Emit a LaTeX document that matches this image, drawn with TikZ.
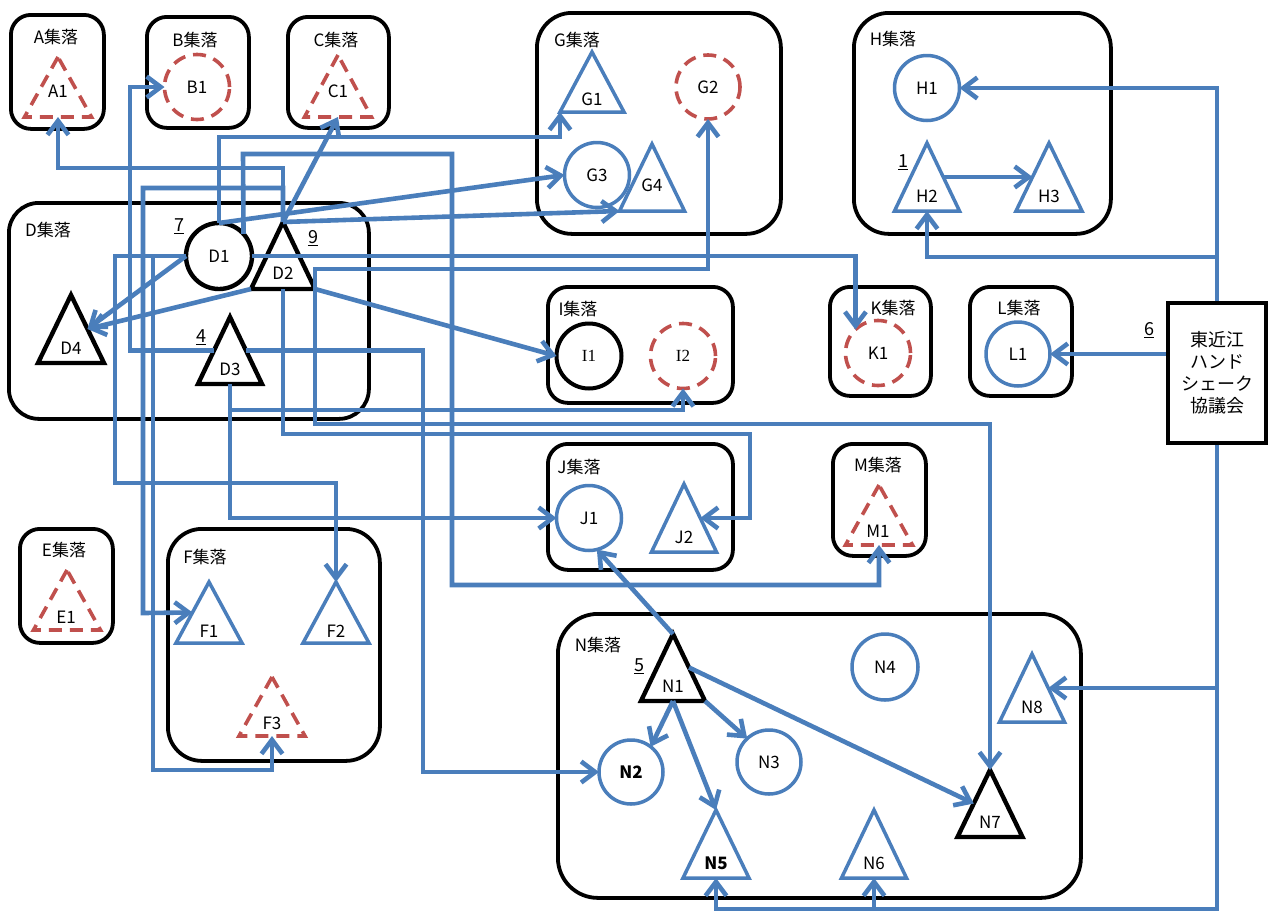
\documentclass[tikz,border=0pt]{standalone}
\usepackage{fontspec}
\setmainfont{Noto Sans CJK JP}
\newfontfamily\romanface{Liberation Serif}
\usetikzlibrary{arrows.meta,shapes.geometric}

\definecolor{hsblue}{RGB}{74,126,187}
\definecolor{hsred}{RGB}{192,80,77}

\tikzset{
  village/.style={draw, line width=3.8pt, anchor=north west, inner sep=0pt, rounded corners=20pt},
  vname/.style={font=\fontsize{17}{19}\selectfont, inner sep=0pt},
  house/.style={circle, minimum size=65pt, inner sep=0pt, outer sep=0pt, font=\fontsize{17}{19}\selectfont},
  roof/.style={isosceles triangle, isosceles triangle stretches, shape border rotate=90,
    anchor=lower side, minimum width=66pt, minimum height=67pt, inner sep=0pt, outer sep=0pt},
  rname/.style={font=\fontsize{17}{19}\selectfont, inner sep=0pt},
  core/.style={draw=black, line width=4.4pt},
  member/.style={draw=hsblue, line width=3.5pt},
  cand/.style={draw=hsred, line width=3.6pt, dash pattern=on 13pt off 8pt},
  link/.style={draw=hsblue, line width=4.6pt, -{Straight Barb[length=14pt,width=21pt]}},
  count/.style={font=\fontsize{18}{20}\selectfont, inner sep=0pt},
}

\begin{document}
\begin{tikzpicture}[x=1pt, y=-1pt]
\useasboundingbox (0,0) rectangle (1269,911);

% ---- villages ----
\node[village, minimum width=93pt, minimum height=114pt] (A) at (9,13) {};
\node[village, minimum width=102pt, minimum height=111pt] (B) at (145,15) {};
\node[village, minimum width=101pt, minimum height=111pt] (C) at (286,15) {};
\node[village, minimum width=360pt, minimum height=216pt, rounded corners=30pt] (D) at (7,201) {};
\node[village, minimum width=93pt, minimum height=114pt] (E) at (18,527) {};
\node[village, minimum width=212pt, minimum height=232pt, rounded corners=34pt] (F) at (166,527) {};
\node[village, minimum width=244pt, minimum height=221pt, rounded corners=35pt] (G) at (535,11) {};
\node[village, minimum width=257pt, minimum height=221pt, rounded corners=35pt] (H) at (852,11) {};
\node[village, minimum width=185pt, minimum height=116pt] (I) at (546,285) {};
\node[village, minimum width=185pt, minimum height=126pt] (J) at (546,442) {};
\node[village, minimum width=101pt, minimum height=109pt] (K) at (828,285) {};
\node[village, minimum width=102pt, minimum height=109pt] (L) at (968,285) {};
\node[village, minimum width=93pt, minimum height=112pt] (M) at (831,442) {};
\node[village, minimum width=523pt, minimum height=284pt, rounded corners=40pt] (N) at (556,612) {};

% village names
\node[vname] (Aname) at (56,37) {A集落};
\node[vname] (Bname) at (195,40) {B集落};
\node[vname] (Cname) at (336,40) {C集落};
\node[vname] (Dname) at (48,230) {D集落};
\node[vname] (Ename) at (64,550) {E集落};
\node[vname] (Fname) at (205,557) {F集落};
\node[vname] (Gname) at (577,40) {G集落};
\node[vname] (Hname) at (893,39) {H集落};
\node[vname] (Iname) at (578,309) {I集落};
\node[vname] (Jname) at (579,467) {J集落};
\node[vname] (Kname) at (893,308) {K集落};
\node[vname] (Lname) at (1019,308) {L集落};
\node[vname] (Mname) at (878,465) {M集落};
\node[vname] (Nname) at (598,645) {N集落};

% ---- council ----
\node[draw, line width=4.2pt, minimum width=98pt, minimum height=140pt, align=center,
  font=\fontsize{18}{22}\selectfont] (kyo) at (1217,373) {東近江\\ハンド\\シェーク\\協議会};

% ---- circles ----
\node[house, cand] (B1) at (197,87) {B1};
\node[house, core, minimum size=66pt] (D1) at (219,256) {D1};
\node[house, cand, minimum size=64pt] (G2) at (708,87) {G2};
\node[house, member] (G3) at (597,175) {G3};
\node[house, member] (H1) at (927,88) {H1};
\node[house, core, line width=4pt, font=\fontsize{17}{19}\romanface] (I1) at (589,356) {I1};
\node[house, cand, font=\fontsize{17}{19}\romanface] (I2) at (683,356) {I2};
\node[house, member] (J1) at (589,518) {J1};
\node[house, cand] (K1) at (878,353) {K1};
\node[house, member, minimum size=64pt] (L1) at (1018,354) {L1};
\node[house, member, minimum size=64pt, font=\fontsize{17}{19}\bfseries] (N2) at (631,772) {N2};
\node[house, member, minimum size=64pt] (N3) at (769,762) {N3};
\node[house, member, minimum size=66pt] (N4) at (885,667) {N4};

% ---- triangles ----
\node[roof, cand, minimum height=60pt, minimum width=67pt] (A1) at (58,117) {};
\node[roof, cand, minimum height=62pt, minimum width=67pt] (C1) at (338,117) {};
\node[roof, core, minimum width=64pt] (D2) at (283,289) {};
\node[roof, core, minimum width=64pt] (D3) at (230,384) {};
\node[roof, core, minimum height=68pt] (D4) at (71,363) {};
\node[roof, cand, minimum height=60pt, minimum width=67pt] (E1) at (67,630) {};
\node[roof, member, minimum height=61pt] (F1) at (209,643) {};
\node[roof, member, minimum height=61pt] (F2) at (336,643) {};
\node[roof, cand, minimum height=59pt] (F3) at (272,736) {};
\node[roof, member, minimum height=60pt, minimum width=64pt] (G1) at (592,112) {};
\node[roof, member, minimum width=65pt] (G4) at (652,211) {};
\node[roof, member, minimum height=68pt, minimum width=65pt] (H2) at (927,211) {};
\node[roof, member, minimum height=68pt] (H3) at (1049,211) {};
\node[roof, member, minimum height=68pt, minimum width=65pt] (J2) at (684,552) {};
\node[roof, cand, minimum height=60pt, minimum width=67pt] (M1) at (879,545) {};
\node[roof, core, minimum width=64pt] (N1) at (673,701) {};
\node[roof, member, minimum height=68pt] (N5) at (716,878) {};
\node[roof, member, minimum height=68pt, minimum width=65pt] (N6) at (874,878) {};
\node[roof, core, minimum width=65pt] (N7) at (990,837) {};
\node[roof, member, minimum height=68pt, minimum width=65pt] (N8) at (1032,722) {};

% triangle names
\node[rname] (A1name) at (58,91) {A1};
\node[rname] (C1name) at (338,91) {C1};
\node[rname] (D2name) at (283,273) {D2};
\node[rname] (D3name) at (230,369) {D3};
\node[rname] (D4name) at (71,348) {D4};
\node[rname] (E1name) at (66,617) {E1};
\node[rname] (F1name) at (209,631) {F1};
\node[rname] (F2name) at (336,631) {F2};
\node[rname] (F3name) at (272,723) {F3};
\node[rname] (G1name) at (592,99) {G1};
\node[rname] (G4name) at (652,185) {G4};
\node[rname] (H2name) at (927,196) {H2};
\node[rname] (H3name) at (1049,196) {H3};
\node[rname] (J2name) at (684,537) {J2};
\node[rname] (M1name) at (878,531) {M1};
\node[rname] (N1name) at (673,686) {N1};
\node[rname, font=\fontsize{17}{19}\bfseries] (N5name) at (716,863) {N5};
\node[rname] (N6name) at (874,863) {N6};
\node[rname] (N7name) at (990,822) {N7};
\node[rname] (N8name) at (1032,707) {N8};

% link counts
\node[count] (c7) at (179,226) {\underline{7}};
\node[count] (c9) at (313,238) {\underline{9}};
\node[count] (c4) at (201,337) {\underline{4}};
\node[count] (c1) at (903,162) {\underline{1}};
\node[count] (c6) at (1149,330) {\underline{6}};
\node[count] (c5) at (639,666) {\underline{5}};

% ---- links from the council ----
\draw[link] (kyo.north) |- (H1.east);
\draw[link] (kyo.north) -- (1217,257) -| (H2.lower side);
\draw[link] (kyo.west |- L1.east) -- (L1.east);
\draw[link] (kyo.south) |- (N8.right side);
\draw[link] (kyo.south) -- (1217,909) -| (N6.lower side);
\draw[link] (kyo.south) -- (1217,909) -| (N5.lower side);

% H2
\draw[link] (H2.right side) -- (H3.left side);

% D1
\draw[link] (D1.west) -- (D4.right side);
\draw[link] (D1.north) -- (219,137) -| (G1.left corner);
\draw[link] (D1.42) -- (243,154) -| (452,585) -| (M1.lower side);
\draw[link] (D1.north) -- (G3.west);
\draw[link] (D1.east) -| (K1.134);
\draw[link] (D1.west) -| (115,483) -| (F2.apex);
\draw[link] (D1.west) -| (153,770) -| (F3.lower side);

% D2
\draw[link] (D2.apex) -- (283,168) -| (A1.lower side);
\draw[link] (D2.apex) -- (283,188) -| (143,613) -- (F1.left side);
\draw[link] (D2.apex) -- (C1.lower side);
\draw[link] (D2.apex) -- (G4.left corner);
\draw[link] (D2.left corner) -- (D4.right side);
\draw[link] (D2.right corner) -- (I1.west);
\draw[link] (D2.lower side) -- (283,434) -| (750,518) -- (J2.right side);
\draw[link] (D2.right corner) -- (315,269) -| (G2.south);
\draw[link] (D2.right corner) -- (315,424) -| (N7.apex);

% D3
\draw[link] (D3.left side) -| (130,87) -- (B1.west);
\draw[link] (D3.right side) -| (423,772) -- (N2.west);
\draw[link] (D3.lower side) -- (230,410) -| (I2.south);
\draw[link] (D3.lower side) |- (J1.west);

% N1
\draw[link] (N1.apex) -- (J1.-76);
\draw[link] (N1.lower side) -- (N2.52);
\draw[link] (N1.lower side) -- (N5.apex);
\draw[link] (N1.right corner) -- (N3.133);
\draw[link] (N1.right side) -- (N7.left side);

\end{tikzpicture}
\end{document}
